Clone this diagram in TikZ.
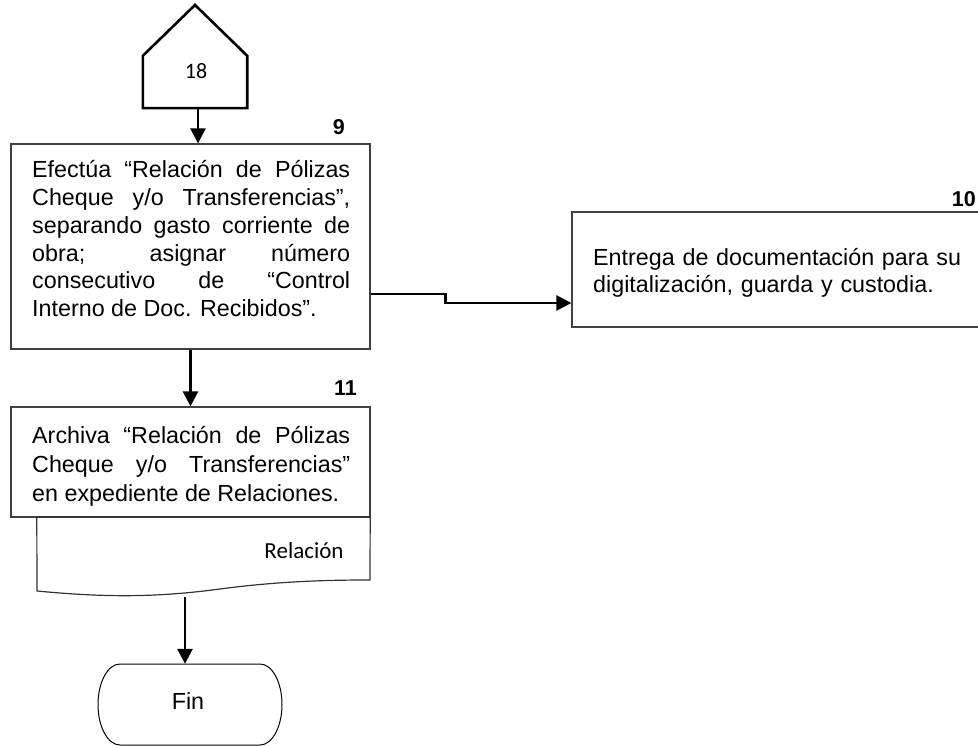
\documentclass[tikz,border=0pt]{standalone}
\usepackage{fontspec}
\setmainfont{Liberation Sans}
\newfontfamily\carlito{Carlito}
\usetikzlibrary{arrows.meta,calc}

\begin{document}
\begin{tikzpicture}[x=1pt,y=-1pt,
  flow/.style={-{Triangle[length=15pt,width=15pt]}, line width=2.6pt},
  procbox/.style={draw=black!75, line width=1.3pt, rectangle, inner sep=0pt},
  hidden/.style={rectangle, inner sep=0pt},
  bodytext/.style={anchor=base west, inner sep=0pt, text width=318pt, align=justify},
  stepnum/.style={anchor=base east, inner sep=0pt, font=\bfseries\fontsize{21.5}{24}\selectfont},
]
\useasboundingbox (0,0) rectangle (978,746);
\clip (0,0) rectangle (978,746);

% off-page connector 18
\node[hidden, minimum width=104pt, minimum height=52pt] (conn18) at (195,82) {};
\draw[line width=2.6pt, line join=miter]
  (conn18.south west) -- (conn18.north west) -- (195,5) -- (conn18.north east)
  -- (conn18.south east) -- cycle;
\node[inner sep=0pt, font=\carlito\fontsize{22}{24}\selectfont] (lbl18) at (196,71) {18};
\coordinate (c18out) at ([xshift=3pt]conn18.south);

% step 9
\node[procbox, minimum width=359pt, minimum height=205pt] (b9) at (190.5,246.5) {};
\node[bodytext, font=\fontsize{23.3}{27.7}\selectfont] (t9) at (32,178)
  {Efectúa “Relación de Pólizas\linebreak
   Cheque y/o Transferencias”,\linebreak
   separando gasto corriente de\linebreak
   obra; asignar número\linebreak
   consecutivo de “Control\linebreak
   Interno de Doc. Recibidos”.};
\node[stepnum] (n9) at (345,135) {9};

% step 10
\node[procbox, minimum width=428pt, minimum height=115pt] (b10) at (786,269.5) {};
\node[anchor=base west, inner sep=0pt, text width=380pt, align=left,
      font=\fontsize{23.3}{26.5}\selectfont] (t10) at (593,266)
  {Entrega de documentación para su\\digitalización, guarda y custodia.};
\node[stepnum] (n10) at (976,206.7) {10};

% step 11
\node[procbox, minimum width=359pt, minimum height=110pt] (b11) at (190.5,462) {};
\node[bodytext, font=\fontsize{23.3}{29}\selectfont] (t11) at (32,443)
  {Archiva “Relación de Pólizas\linebreak
   Cheque y/o Transferencias”\linebreak
   en expediente de Relaciones.};
\node[stepnum] (n11) at (357,395) {11};

% document "Relación"
\node[hidden, minimum width=333pt, minimum height=80pt] (rel) at (203.5,557) {};
\draw[draw=black!80, line width=1.2pt]
  (rel.north west) -- (rel.north east) -- (370,580)
  .. controls (330,580) and (280,581) .. (220,589)
  .. controls (160,597) and (110,598) .. (37,591) -- cycle;
\node[inner sep=0pt, font=\carlito\fontsize{23}{26}\selectfont] (trel) at (304,551) {Relación};
\coordinate (relout) at (185,597);

% terminal "Fin"
\node[hidden, minimum width=184pt, minimum height=81pt] (fin) at (190,704.5) {};
\draw[line width=1pt]
  (120,664) -- (260,664) arc[start angle=-90, end angle=90, x radius=22, y radius=40.5]
  -- (120,745) arc[start angle=90, end angle=270, x radius=22, y radius=40.5] -- cycle;
\node[anchor=base, inner sep=0pt, font=\fontsize{23.3}{26}\selectfont] (tfin) at (188,709.3) {Fin};

% connectors
\draw[flow] (c18out) -- (c18out |- b9.north);
\draw[flow] (b9.south) -- (b11.north);
\draw[flow] ([yshift=-47.5pt]b9.east) -- ++(75,0) |- ([yshift=-33.5pt]b10.west);
\draw[flow] (relout) -- (relout |- fin.north);
\end{tikzpicture}
\end{document}
